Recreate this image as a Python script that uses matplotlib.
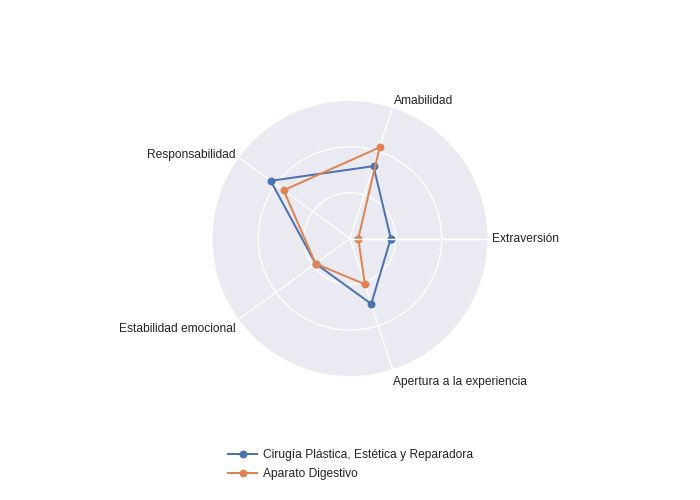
import numpy as np
import matplotlib
matplotlib.use("Agg")
import matplotlib.pyplot as plt
from matplotlib.lines import Line2D

plt.rcParams['font.family'] = ['Liberation Sans', 'DejaVu Sans']

categories = ["Extraversión", "Amabilidad", "Responsabilidad",
              "Estabilidad emocional", "Apertura a la experiencia"]
series_names = ["Cirugía Plástica, Estética y Reparadora", "Aparato Digestivo"]
cirugia = [0.89, 1.66, 2.14, 0.93, 1.50]
digestivo = [0.18, 2.09, 1.79, 0.93, 1.05]
r_max = 3.0
grid_values = [1.0, 2.0]

colors = ["#4C72B0", "#DD8452"]
text_color = "#242424"
PX = 0.72  # points per pixel at dpi 100
fs = 12 * PX

fig = plt.figure(figsize=(7, 5), dpi=100)
ax = fig.add_axes([(350 - 137.5) / 700, (500 - 238.5 - 137.5) / 500, 275 / 700, 275 / 500],
                  projection='polar')
ax.set_facecolor("#EAEAF2")
ax.spines['polar'].set_visible(False)

n = len(categories)
angles = np.deg2rad(np.arange(n) * 360.0 / n)

ax.set_ylim(0, r_max)
ax.set_yticks(grid_values)
ax.set_yticklabels([])
ax.set_xticks(angles)
ax.set_xticklabels([])
ax.tick_params(length=0)
ax.grid(True, color="white", linewidth=1.0)

for vals, col, name in zip([cirugia, digestivo], colors, series_names):
    th = np.concatenate([angles, angles[:1]])
    rr = np.concatenate([vals, vals[:1]])
    ax.plot(th, rr, color=col, linewidth=2 * PX, marker='o', markersize=6.5 * PX,
            label=name, zorder=3, clip_on=False)

# radial axis line drawn above traces
ax.plot([0, 0], [0, r_max], color="white", linewidth=1.0, zorder=4)

# angular labels
offsets = [
    (4.5, -1.0, 'left'),
    (1.5, 7.0, 'left'),
    (-3.0, 3.0, 'right'),
    (-3.0, -9.3, 'right'),
    (1.0, -13.0, 'left'),
]
for ang, lab, (dx, dy, ha) in zip(angles, categories, offsets):
    ax.annotate(lab, xy=(ang, r_max), xytext=(dx * PX, dy * PX), textcoords='offset points',
                ha=ha, va='center', fontsize=fs, color=text_color, annotation_clip=False)

handles = [Line2D([0], [0], color=c, linewidth=2 * PX, marker='o', markersize=6.5 * PX)
           for c in colors]
leg = fig.legend(handles, series_names, loc='upper left',
                 bbox_to_anchor=(228 / 700, (500 - 449) / 500),
                 frameon=False, fontsize=fs, handlelength=2.42, handletextpad=0.5,
                 borderpad=0, borderaxespad=0, labelspacing=0.62, labelcolor=text_color)

fig.savefig("out.png", dpi=100, facecolor="white")
